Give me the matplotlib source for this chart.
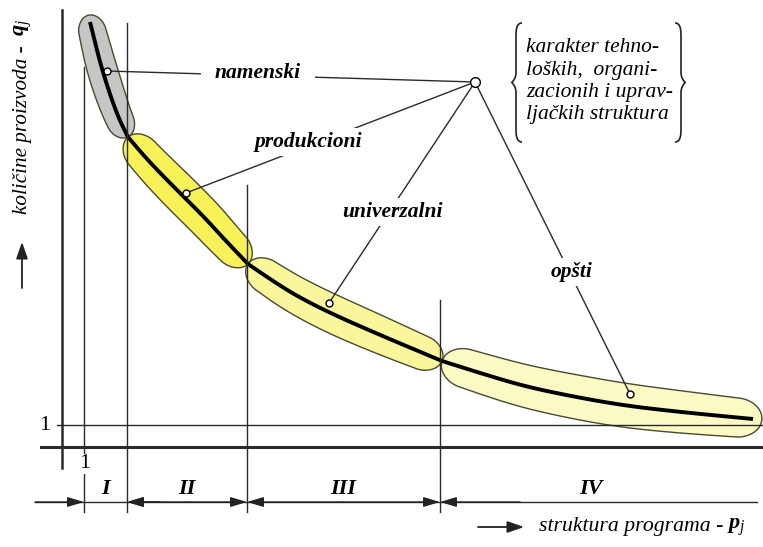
"""Schematic: product quantity vs. program structure, four production types."""

import numpy as np
import matplotlib

matplotlib.use("Agg")
import matplotlib.pyplot as plt
from matplotlib.patches import Polygon, PathPatch
from matplotlib.path import Path

plt.rcParams["mathtext.fontset"] = "custom"
plt.rcParams["mathtext.rm"] = "Liberation Serif"
plt.rcParams["mathtext.it"] = "Liberation Serif:italic"
plt.rcParams["mathtext.bf"] = "Liberation Serif:bold:italic"

SERIF = "Liberation Serif"

# curve segments in drawing units (x to the right, y downwards)
SEG_X = [
    [90, 95, 100, 106, 113, 120, 128],
    [128, 145, 165, 185, 205, 225, 248],
    [248, 270, 295, 330, 380, 442],
    [442, 480, 520, 560, 620, 680, 753],
]
SEG_Y = [
    [22, 42, 62, 82, 103, 121, 137],
    [137, 157, 178, 198, 218, 240, 264],
    [264, 279, 295, 313, 335, 361],
    [361, 373, 385, 394, 405, 412, 419],
]
SEG_HALF_W = [15, 19, 19, 22]
SEG_EXT = [(7, 0), (0, 0), (0, 0), (0, 9)]
SEG_COLORS = ["#c6c6c6", "#f6f258", "#f9f69c", "#fbf9c4"]

ZONE_NAMES = ["I", "II", "III", "IV"]
ZONE_EDGES = [84, 127, 247, 440]
ZONE_TOPS = [67, 23, 185, 300]
ZONE_LABEL_X = [106, 187, 343, 591]

TYPE_NAMES = ["namenski", "produkcioni", "univerzalni", "opšti"]
TYPE_TEXT_X = [258, 308, 392, 572]
TYPE_TEXT_Y = [73, 142, 212, 272]
TYPE_PAD = [10, 3, 3, 3]
MARK_X = [107, 186, 329, 630]
MARK_Y = [71, 193, 303, 394]
HUB = (475, 82)

BOX_LINES = ["karakter tehno-", "loških,  organi-", "zacionih i uprav-", "ljačkih struktura"]
BOX_LINE_Y = [47, 70, 92, 114]

AXIS_X, AXIS_Y, ONE_Y, DIM_Y = 62, 447, 425, 502


def chaikin(pts, n=3):
    for _ in range(n):
        q = 0.75 * pts[:-1] + 0.25 * pts[1:]
        r = 0.25 * pts[:-1] + 0.75 * pts[1:]
        mid = np.empty((2 * len(q), 2))
        mid[0::2] = q
        mid[1::2] = r
        pts = np.vstack([pts[:1], mid, pts[-1:]])
    return pts


def blob(pts, hw, ext0, ext1):
    pts = pts.copy()
    if ext0:
        d = pts[0] - pts[1]
        pts = np.vstack([pts[0] + d / np.hypot(*d) * ext0, pts])
    if ext1:
        d = pts[-1] - pts[-2]
        pts = np.vstack([pts, pts[-1] + d / np.hypot(*d) * ext1])
    seg = np.hypot(*np.diff(pts, axis=0).T)
    s = np.concatenate([[0], np.cumsum(seg)])
    ss = np.linspace(0, s[-1], 400)
    p = np.column_stack([np.interp(ss, s, pts[:, 0]), np.interp(ss, s, pts[:, 1])])
    t = np.gradient(p, axis=0)
    t /= np.hypot(t[:, 0], t[:, 1])[:, None]
    n = np.column_stack([-t[:, 1], t[:, 0]])
    S = ss[-1]
    c = min(hw * 1.1, S / 2)
    h = np.full_like(ss, hw * 1.0)
    a = np.clip((c - ss) / c, 0, 1)
    b = np.clip((ss - (S - c)) / c, 0, 1)
    h *= np.sqrt(1 - a**2) * np.sqrt(1 - b**2)
    h *= 0.85 + 0.15 * np.sin(np.pi * ss / S)
    up = p + n * h[:, None]
    lo = p - n * h[:, None]
    return np.vstack([up, lo[::-1]])


def brace(ax, x, top, bot, side):
    # side = +1 opens to the right (left brace), -1 opens to the left
    m = 0.5 * (top + bot)
    k = 6 * side
    verts = [
        (x + k, top), (x, top), (x, top + 8), (x, top + 14),
        (x, m - 10), (x, m - 4), (x - k * 0.7, m),
        (x, m + 4), (x, m + 10),
        (x, bot - 14), (x, bot - 8), (x, bot), (x + k, bot),
    ]
    codes = [Path.MOVETO, Path.CURVE4, Path.CURVE4, Path.CURVE4,
             Path.LINETO, Path.CURVE3, Path.CURVE3,
             Path.CURVE3, Path.CURVE3,
             Path.LINETO, Path.CURVE4, Path.CURVE4, Path.CURVE4]
    ax.add_patch(PathPatch(Path(verts, codes), fc="none", ec="#222222", lw=1.2))


def arrow(ax, x0, y0, x1, y1, style, scale=10, lw=1.0):
    ax.annotate("", xy=(x1, y1), xytext=(x0, y0),
                arrowprops=dict(arrowstyle=style, color="#222222", lw=lw,
                                mutation_scale=scale, shrinkA=0, shrinkB=0))


def main():
    fig = plt.figure(figsize=(7.63, 5.47), dpi=100)
    ax = fig.add_axes([0, 0, 1, 1])
    ax.set_xlim(0, 763)
    ax.set_ylim(547, 0)
    ax.set_aspect("equal")
    ax.axis("off")

    line_c = "#2a2a2a"

    # blobs and curve
    for i in range(4):
        pts = chaikin(np.column_stack([SEG_X[i], SEG_Y[i]]).astype(float))
        poly = blob(pts, SEG_HALF_W[i], *SEG_EXT[i])
        ax.add_patch(Polygon(poly, closed=True, fc=SEG_COLORS[i], ec="#4a4a30", lw=1.0, zorder=2))
        ax.plot(pts[:, 0], pts[:, 1], color="black", lw=2.8, solid_capstyle="butt", zorder=3)

    # axes
    ax.plot([AXIS_X, AXIS_X], [10, 468], color=line_c, lw=1.8, zorder=4)
    ax.plot([41, 763], [AXIS_Y, AXIS_Y], color=line_c, lw=2.2, zorder=4)
    ax.plot([57, 763], [ONE_Y, ONE_Y], color=line_c, lw=1.0, zorder=4)
    ax.text(45, ONE_Y, "1", family=SERIF, fontsize=16, ha="center", va="center")
    ax.text(ZONE_EDGES[0] + 1, 464, "1", family=SERIF, fontsize=16, ha="center", va="center",
            bbox=dict(fc="white", ec="none", pad=0.5), zorder=5)

    # zone boundaries
    for x, top in zip(ZONE_EDGES, ZONE_TOPS):
        ax.plot([x, x], [top, 512], color=line_c, lw=1.0, zorder=4)

    # dimension line with arrows
    ax.plot([35, 757], [DIM_Y, DIM_Y], color=line_c, lw=1.0)
    head = "-|>,head_length=1.0,head_width=0.3"
    arrow(ax, 35, DIM_Y, ZONE_EDGES[0], DIM_Y, head)
    arrow(ax, 160, DIM_Y, ZONE_EDGES[1], DIM_Y, head)
    for a, b in [(ZONE_EDGES[1], ZONE_EDGES[2]), (ZONE_EDGES[2], ZONE_EDGES[3])]:
        arrow(ax, (a + b) / 2, DIM_Y, b, DIM_Y, head)
        arrow(ax, (a + b) / 2, DIM_Y, a, DIM_Y, head)
    arrow(ax, 520, DIM_Y, ZONE_EDGES[3], DIM_Y, head)
    for name, x in zip(ZONE_NAMES, ZONE_LABEL_X):
        ax.text(x, 489, name, family=SERIF, fontsize=16, fontweight="bold", fontstyle="italic",
                ha="center", va="center")

    # leader lines from the hub to each type
    for name, tx, ty, pad, mx, my in zip(TYPE_NAMES, TYPE_TEXT_X, TYPE_TEXT_Y, TYPE_PAD, MARK_X, MARK_Y):
        ax.plot([HUB[0], mx], [HUB[1], my], color=line_c, lw=1.0, zorder=5)
        ax.plot(mx, my, "o", ms=5, mfc="white", mec="black", mew=1.0, zorder=7)
        ax.text(tx, ty, name, family=SERIF, fontsize=15.5, fontweight="bold", fontstyle="italic",
                ha="center", va="center", zorder=6,
                bbox=dict(fc="white", ec="none", pad=pad))
    ax.plot(*HUB, "o", ms=7, mfc="white", mec="black", mew=1.0, zorder=7)

    # bracketed note
    brace(ax, 516, 23, 142, +1)
    brace(ax, 681, 23, 142, -1)
    for txt, y in zip(BOX_LINES, BOX_LINE_Y):
        ax.text(526, y, txt, family=SERIF, fontsize=15.5, fontstyle="italic", ha="left", va="center")

    # axis titles
    ax.text(23, 214, "količine proizvoda -", family=SERIF, fontsize=15.2, fontstyle="italic",
            rotation=90, rotation_mode="anchor", ha="left", va="center")
    ax.text(23, 36, r"$\mathbf{q}_j$", fontsize=16, rotation=90, rotation_mode="anchor",
            ha="left", va="center")
    arrow(ax, 22, 288, 22, 242, "-|>,head_length=1.0,head_width=0.35", scale=10, lw=1.3)

    ax.text(539, 527, "struktura programa - ", family=SERIF, fontsize=15.7, fontstyle="italic",
            ha="left", va="center")
    ax.text(727, 527, r"$\mathbf{p}_j$", fontsize=16, ha="left", va="center")
    arrow(ax, 478, 527, 524, 527, "-|>,head_length=1.0,head_width=0.35", scale=10, lw=1.3)

    fig.savefig("out.png", dpi=100)
    plt.close(fig)


if __name__ == "__main__":
    main()
